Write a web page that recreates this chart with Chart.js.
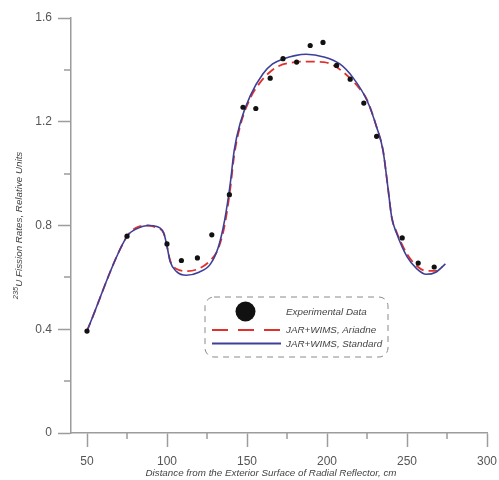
<!DOCTYPE html>
<html>
<head>
<meta charset="utf-8">
<title>Fission rates</title>
<script src="https://cdn.jsdelivr.net/npm/chart.js@4.4.0/dist/chart.umd.min.js"></script>
<style>
	html, body { margin: 0; padding: 0; background: #fff; }
	#wrap { width: 499px; height: 480px; }
</style>
</head>
<body>
<div id="wrap"><canvas id="mycanvas" width="499" height="480"></canvas></div>
<script>
// experimental points
var exp_x = [50, 75, 100, 109, 119, 128, 139, 147.5, 155.5, 164.5, 172.5, 181, 189.5, 197.5, 206, 214.5, 223, 231, 247, 257, 267];
var exp_y = [0.393, 0.759, 0.729, 0.665, 0.675, 0.764, 0.919, 1.256, 1.251, 1.368, 1.443, 1.43, 1.494, 1.506, 1.417, 1.364, 1.272, 1.144, 0.752, 0.655, 0.64];

// JAR+WIMS, Standard
var std_x = [50, 75, 82, 88, 94, 98, 100, 102, 106, 112, 120, 127, 132, 136, 139.5, 142, 146, 152, 160, 166, 173, 180, 187, 198, 208, 216, 225, 231, 235, 238, 240.5, 243.5, 250, 256, 262, 268, 274];
var std_y = [0.394, 0.758, 0.79, 0.80, 0.795, 0.77, 0.72, 0.66, 0.622, 0.608, 0.62, 0.65, 0.715, 0.82, 0.96, 1.09, 1.2, 1.3, 1.385, 1.423, 1.443, 1.455, 1.46, 1.45, 1.423, 1.372, 1.282, 1.18, 1.09, 0.95, 0.83, 0.77, 0.68, 0.634, 0.612, 0.62, 0.652];

// JAR+WIMS, Ariadne
var ari_x = [50, 75, 82, 88, 94, 98, 100, 102, 106, 113, 120, 127, 132, 136, 139.5, 142, 146, 152, 158, 164, 170, 178, 187, 198, 206, 214, 220, 225, 231, 235, 238, 240.5, 243.5, 250, 256, 262, 268, 272];
var ari_y = [0.394, 0.758, 0.795, 0.80, 0.79, 0.77, 0.72, 0.665, 0.632, 0.624, 0.634, 0.665, 0.71, 0.80, 0.94, 1.07, 1.19, 1.29, 1.35, 1.39, 1.415, 1.428, 1.432, 1.43, 1.41, 1.37, 1.33, 1.285, 1.18, 1.09, 0.95, 0.83, 0.775, 0.69, 0.645, 0.625, 0.625, 0.64];

var x_ticks = [50, 100, 150, 200, 250, 300];
var x_minor = [75, 125, 175, 225, 275];
var y_ticks = [0, 0.4, 0.8, 1.2, 1.6];
var y_minor = [0.2, 0.6, 1.0, 1.4];

var legend_labels = ['Experimental Data', 'JAR+WIMS, Ariadne', 'JAR+WIMS, Standard'];
var x_title = 'Distance from the Exterior Surface of Radial Reflector, cm';
var y_title_sup = '235';
var y_title = 'U Fission Rates, Relative Units';

var axisColor = '#9c9c9c';
var textColor = '#555';
var blue = '#3d4099';
var red = '#e2302c';
var italic = 'italic 9.8px "Liberation Sans", Arial, sans-serif';
var italicSmall = 'italic 7.5px "Liberation Sans", Arial, sans-serif';

function pairs(xs, ys) {
	var out = [];
	for (var i in xs) {
		out.push({x: xs[i], y: ys[i]});
	}
	return out;
}

// minor ticks, axis titles and the boxed legend
var decor = {
	id: 'decor',
	afterDraw: function(chart) {
		var ctx = chart.ctx;
		var sx = chart.scales.x, sy = chart.scales.y;
		var area = chart.chartArea;
		ctx.save();

		ctx.strokeStyle = axisColor;
		ctx.lineWidth = 1.5;
		ctx.beginPath();
		x_minor.forEach(function(v) {
			var px = Math.round(sx.getPixelForValue(v));
			ctx.moveTo(px, area.bottom);
			ctx.lineTo(px, area.bottom + 6);
		});
		y_minor.forEach(function(v) {
			var py = Math.round(sy.getPixelForValue(v));
			ctx.moveTo(area.left, py);
			ctx.lineTo(area.left - 7, py);
		});
		ctx.stroke();

		ctx.fillStyle = '#444';
		ctx.textBaseline = 'middle';
		ctx.textAlign = 'center';
		ctx.font = italic;
		ctx.fillText(x_title, 271, 473);

		// rotated y title with superscript
		ctx.save();
		ctx.translate(19, (area.top + area.bottom) / 2);
		ctx.rotate(-Math.PI / 2);
		ctx.textAlign = 'left';
		ctx.font = italicSmall;
		var w1 = ctx.measureText(y_title_sup).width;
		ctx.font = italic;
		var w2 = ctx.measureText(y_title).width;
		var start = -(w1 + w2) / 2;
		ctx.font = italicSmall;
		ctx.fillText(y_title_sup, start, -3);
		ctx.font = italic;
		ctx.fillText(y_title, start + w1, 0);
		ctx.restore();

		// legend box
		var bx = 205, by = 297, bw = 183, bh = 60;
		ctx.strokeStyle = '#8a8a8a';
		ctx.lineWidth = 1;
		ctx.setLineDash([6, 5]);
		ctx.beginPath();
		ctx.roundRect(bx, by, bw, bh, 9);
		ctx.stroke();

		ctx.setLineDash([]);
		ctx.fillStyle = '#111';
		ctx.beginPath();
		ctx.arc(245.5, 311.5, 10, 0, Math.PI * 2);
		ctx.fill();

		ctx.lineWidth = 2;
		ctx.strokeStyle = red;
		ctx.setLineDash([16, 10]);
		ctx.beginPath();
		ctx.moveTo(212, 330);
		ctx.lineTo(281, 330);
		ctx.stroke();

		ctx.setLineDash([]);
		ctx.strokeStyle = blue;
		ctx.beginPath();
		ctx.moveTo(212, 343.5);
		ctx.lineTo(281, 343.5);
		ctx.stroke();

		ctx.fillStyle = '#444';
		ctx.textAlign = 'left';
		ctx.font = italic;
		ctx.fillText(legend_labels[0], 286, 312);
		ctx.fillText(legend_labels[1], 286, 330);
		ctx.fillText(legend_labels[2], 286, 344);

		ctx.restore();
	}
};

Chart.defaults.font.family = '"Liberation Sans", Arial, sans-serif';

var ctx = document.getElementById('mycanvas');

var chart = new Chart(ctx, {
	type: 'scatter',
	data: {
		datasets: [
			{
				label: legend_labels[0],
				data: pairs(exp_x, exp_y),
				showLine: false,
				pointRadius: 2.6,
				pointBackgroundColor: '#111',
				pointBorderWidth: 0,
				order: 0
			},
			{
				label: legend_labels[1],
				data: pairs(ari_x, ari_y),
				showLine: true,
				borderColor: red,
				borderWidth: 1.8,
				borderDash: [9, 5],
				pointRadius: 0,
				cubicInterpolationMode: 'monotone',
				order: 2
			},
			{
				label: legend_labels[2],
				data: pairs(std_x, std_y),
				showLine: true,
				borderColor: blue,
				borderWidth: 1.6,
				pointRadius: 0,
				cubicInterpolationMode: 'monotone',
				order: 1
			}
		]
	},
	options: {
		responsive: false,
		animation: false,
		layout: { padding: { left: 0, right: 12, top: 18, bottom: 0 } },
		plugins: {
			legend: { display: false },
			tooltip: { enabled: false }
		},
		scales: {
			x: {
				type: 'linear',
				min: 40,
				max: 300,
				afterBuildTicks: function(scale) {
					scale.ticks = x_ticks.map(function(v) { return {value: v}; });
				},
				afterFit: function(scale) {
					scale.height = 47;
					scale.paddingLeft = 0;
					scale.paddingRight = 0;
				},
				grid: { drawOnChartArea: false, tickLength: 14, tickColor: axisColor, tickWidth: 1.5 },
				border: { color: axisColor, width: 1.5 },
				ticks: { color: textColor, font: { size: 12 }, padding: 7, maxRotation: 0 }
			},
			y: {
				type: 'linear',
				min: 0,
				max: 1.6,
				afterBuildTicks: function(scale) {
					scale.ticks = y_ticks.map(function(v) { return {value: v}; });
				},
				afterFit: function(scale) {
					scale.width = 71;
					scale.paddingTop = 0;
					scale.paddingBottom = 0;
				},
				grid: { drawOnChartArea: false, tickLength: 13, tickColor: axisColor, tickWidth: 1.5 },
				border: { color: axisColor, width: 1.5 },
				ticks: {
					color: textColor,
					font: { size: 12 },
					padding: 6,
					callback: function(value) { return value === 0 ? '0' : value.toFixed(1); }
				}
			}
		}
	},
	plugins: [decor]
});
</script>
</body>
</html>
